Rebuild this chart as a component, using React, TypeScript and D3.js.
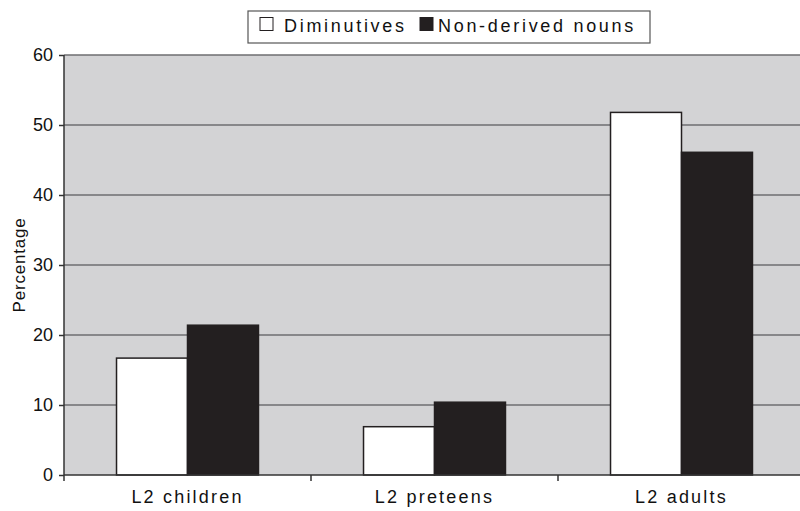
import { useEffect, useRef } from "react";
import * as d3 from "d3";

const W = 800;
const H = 511;
const M = { top: 55, right: -5, bottom: 36, left: 64 };

const categories = ["L2 children", "L2 preteens", "L2 adults"];
const series = ["Diminutives", "Non-derived nouns"];
const diminutives = [16.7, 6.9, 51.8];
const nonDerived = [21.4, 10.4, 46.1];
const yTicks = [0, 10, 20, 30, 40, 50, 60];

const FILL: Record<string, string> = {
  Diminutives: "#ffffff",
  "Non-derived nouns": "#231f20",
};
const FONT = "'Liberation Sans', Arial, sans-serif";

export default function App() {
  const svgRef = useRef<SVGSVGElement>(null);

  useEffect(() => {
    if (!svgRef.current) return;
    const root = d3.select(svgRef.current);
    root.selectAll("*").remove();

    const x0 = M.left;
    const x1 = W - M.right;
    const y0 = H - M.bottom;

    const x = d3.scaleBand<string>().domain(categories).range([x0, x1]).padding(0);
    const xs = d3
      .scaleBand<string>()
      .domain(series)
      .range([0, x.bandwidth()])
      .paddingInner(0)
      .paddingOuter(0.74);
    const y = d3.scaleLinear().domain([0, 60]).range([y0, M.top]);

    // plot background
    root
      .append("rect")
      .attr("x", x0)
      .attr("y", M.top)
      .attr("width", x1 - x0)
      .attr("height", y0 - M.top)
      .attr("fill", "#d3d3d5");

    // gridlines
    root
      .append("g")
      .selectAll("line")
      .data(yTicks.filter((t) => t > 0))
      .join("line")
      .attr("x1", x0)
      .attr("x2", x1)
      .attr("y1", (d) => y(d))
      .attr("y2", (d) => y(d))
      .attr("stroke", "#6e6e70")
      .attr("stroke-width", 1.5);

    const rows = categories.map((c, i) => ({
      cat: c,
      vals: [
        { s: series[0], v: diminutives[i] },
        { s: series[1], v: nonDerived[i] },
      ],
    }));

    root
      .append("g")
      .selectAll("g")
      .data(rows)
      .join("g")
      .attr("transform", (d) => `translate(${x(d.cat)},0)`)
      .selectAll("rect")
      .data((d) => d.vals)
      .join("rect")
      .attr("x", (d) => xs(d.s)!)
      .attr("y", (d) => y(d.v))
      .attr("width", xs.bandwidth())
      .attr("height", (d) => y0 - y(d.v))
      .attr("fill", (d) => FILL[d.s])
      .attr("stroke", "#231f20")
      .attr("stroke-width", 1.5);

    // y axis
    const ya = root
      .append("g")
      .attr("transform", `translate(${x0},0)`)
      .call(d3.axisLeft(y).tickValues(yTicks).tickSize(5).tickPadding(6));
    ya.select(".domain").attr("d", `M0,${M.top}V${y0 + 6}`).attr("stroke", "#333").attr("stroke-width", 1.5);
    ya.selectAll("line").attr("stroke", "#333").attr("stroke-width", 1.5);
    ya.selectAll("text")
      .attr("font-family", FONT)
      .attr("font-size", 18)
      .attr("fill", "#111");

    // x axis
    const xa = root
      .append("g")
      .attr("transform", `translate(0,${y0})`)
      .call(d3.axisBottom(x).tickSize(0).tickPadding(15));
    xa.select(".domain").attr("d", `M${x0},0H${x1}`).attr("stroke", "#333").attr("stroke-width", 1.5);
    xa.selectAll("text")
      .attr("font-family", FONT)
      .attr("font-size", 18)
      .attr("letter-spacing", 2.2)
      .attr("fill", "#111");
    xa.append("g")
      .selectAll("line")
      .data(categories.slice(1))
      .join("line")
      .attr("x1", (d) => x(d)!)
      .attr("x2", (d) => x(d)!)
      .attr("y1", 0)
      .attr("y2", 6)
      .attr("stroke", "#333")
      .attr("stroke-width", 1.5);

    // y label
    root
      .append("text")
      .attr("transform", `translate(25,265) rotate(-90)`)
      .attr("text-anchor", "middle")
      .attr("font-family", FONT)
      .attr("font-size", 17)
      .attr("letter-spacing", 0.8)
      .attr("fill", "#111")
      .text("Percentage");

    // legend
    const lg = root.append("g");
    lg.append("rect")
      .attr("x", 248)
      .attr("y", 11)
      .attr("width", 402)
      .attr("height", 32)
      .attr("fill", "#fff")
      .attr("stroke", "#555")
      .attr("stroke-width", 1.2);
    const items = [
      { s: series[0], sx: 260, tx: 284 },
      { s: series[1], sx: 420, tx: 438 },
    ];
    items.forEach((it) => {
      lg.append("rect")
        .attr("x", it.sx)
        .attr("y", 17.5)
        .attr("width", 13)
        .attr("height", 13)
        .attr("fill", FILL[it.s])
        .attr("stroke", "#231f20")
        .attr("stroke-width", 1);
      lg.append("text")
        .attr("x", it.tx)
        .attr("y", 32)
        .attr("font-family", FONT)
        .attr("font-size", 18)
        .attr("letter-spacing", 2.7)
        .attr("fill", "#111")
        .text(it.s);
    });
  }, []);

  return (
    <svg
      ref={svgRef}
      width={W}
      height={H}
      viewBox={`0 0 ${W} ${H}`}
      style={{ position: "absolute", left: 0, top: 0, background: "#fff" }}
    />
  );
}
